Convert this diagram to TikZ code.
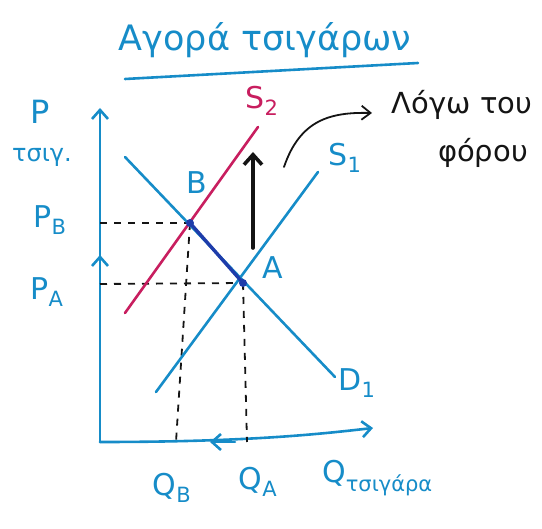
\documentclass[tikz,border=0pt]{standalone}
\usepackage{fontspec}
\setmainfont{DejaVu Sans}
\usetikzlibrary{arrows.meta}
\definecolor{pen}{RGB}{22,140,200}
\definecolor{mag}{RGB}{200,30,95}
\definecolor{dblue}{RGB}{30,60,170}
\definecolor{ink}{RGB}{20,20,20}
\begin{document}
\begin{tikzpicture}[x=1pt,y=-1pt,
  axisline/.style={pen,line width=2.6pt,line cap=round},
  curve/.style={line width=2.6pt,line cap=round},
  guide/.style={ink,line width=1.8pt,dash pattern=on 7pt off 7pt},
  lbl/.style={pen,inner sep=0pt,font=\fontsize{30}{32}\selectfont},
  blk/.style={ink,inner sep=0pt,font=\fontsize{29}{31}\selectfont},
  barb/.style={-{Straight Barb[length=9pt,width=16pt,line width=2.6pt]}}]
\useasboundingbox (0,0) rectangle (542,529);
% title
\node[lbl,font=\fontsize{35}{37}\selectfont] (title) at (265,40) {Αγορά τσιγάρων};
\coordinate (ulL) at (125,79);
\coordinate (ulR) at (418,63);
\draw[axisline] (ulL) -- (ulR);
% axes
\coordinate (O) at (100,442);
\coordinate (Ytop) at (100,108);
\coordinate (Xend) at (373,428);
\draw[axisline,barb] (O) -- (Ytop);
\draw[axisline,barb] (O) .. controls (250,442) and (320,434) .. (Xend);
% key points
\coordinate (A) at (243,283);
\coordinate (B) at (190,223);
% curves
\coordinate (Dtop) at (125,157);
\coordinate (Dbot) at (335,377);
\coordinate (S1bot) at (156,392);
\coordinate (S1top) at (318,172);
\coordinate (S2bot) at (125,313);
\coordinate (S2top) at (258,127);
\draw[guide] (100,223) -- (B);
\draw[guide] (100,284) -- (A);
\draw[guide] (B) -- (176,442);
\draw[guide] (A) -- (247,442);
\draw[curve,pen] (Dtop) -- (Dbot);
\draw[curve,pen] (S1bot) -- (S1top);
\draw[curve,mag] (S2bot) -- (S2top);
\draw[dblue,line width=3.4pt,line cap=round] (B) -- (A);
\fill[dblue] (B) circle (4pt);
\fill[dblue] (A) circle (4pt);
% small arrows on axes
\coordinate (ya1) at (100,272);
\coordinate (ya2) at (100,255);
\draw[axisline,barb] (ya1) -- (ya2);
\coordinate (xa1) at (235,442);
\coordinate (xa2) at (210,442);
\draw[axisline,barb] (xa1) -- (xa2);
% tax arrows
\coordinate (up1) at (253,248);
\coordinate (up2) at (253,152);
\draw[ink,line width=3.6pt,line cap=round,-{Straight Barb[length=10pt,width=18pt,line width=3.6pt]}] (up1) -- (up2);
\coordinate (c1) at (284,167);
\coordinate (c2) at (372,113);
\draw[ink,line width=1.8pt,line cap=round,-{Straight Barb[length=9pt,width=14pt]}] (c1) .. controls (300,120) and (330,112) .. (c2);
% labels
\node[lbl,mag] (s2) at (262,101) {S\textsubscript{2}};
\node[lbl] (s1) at (345,158) {S\textsubscript{1}};
\node[lbl] (d1) at (357,383) {D\textsubscript{1}};
\node[lbl] (lb) at (197,183) {B};
\node[lbl] (la) at (273,268) {A};
\node[lbl,font=\fontsize{32}{34}\selectfont] (lp) at (40,112) {P};
\node[lbl,font=\fontsize{24}{26}\selectfont] (lt) at (42,157) {τσιγ.};
\node[lbl] (pb) at (50,220) {P\textsubscript{B}};
\node[lbl] (pa) at (47,292) {P\textsubscript{A}};
\node[lbl] (qb) at (172,488) {Q\textsubscript{B}};
\node[lbl] (qa) at (258,482) {Q\textsubscript{A}};
\node[lbl,anchor=west] (q) at (322,478) {Q\textsubscript{τσιγάρα}};
\node[blk] (f1) at (462,105) {Λόγω του};
\node[blk] (f2) at (483,153) {φόρου};
\end{tikzpicture}
\end{document}
